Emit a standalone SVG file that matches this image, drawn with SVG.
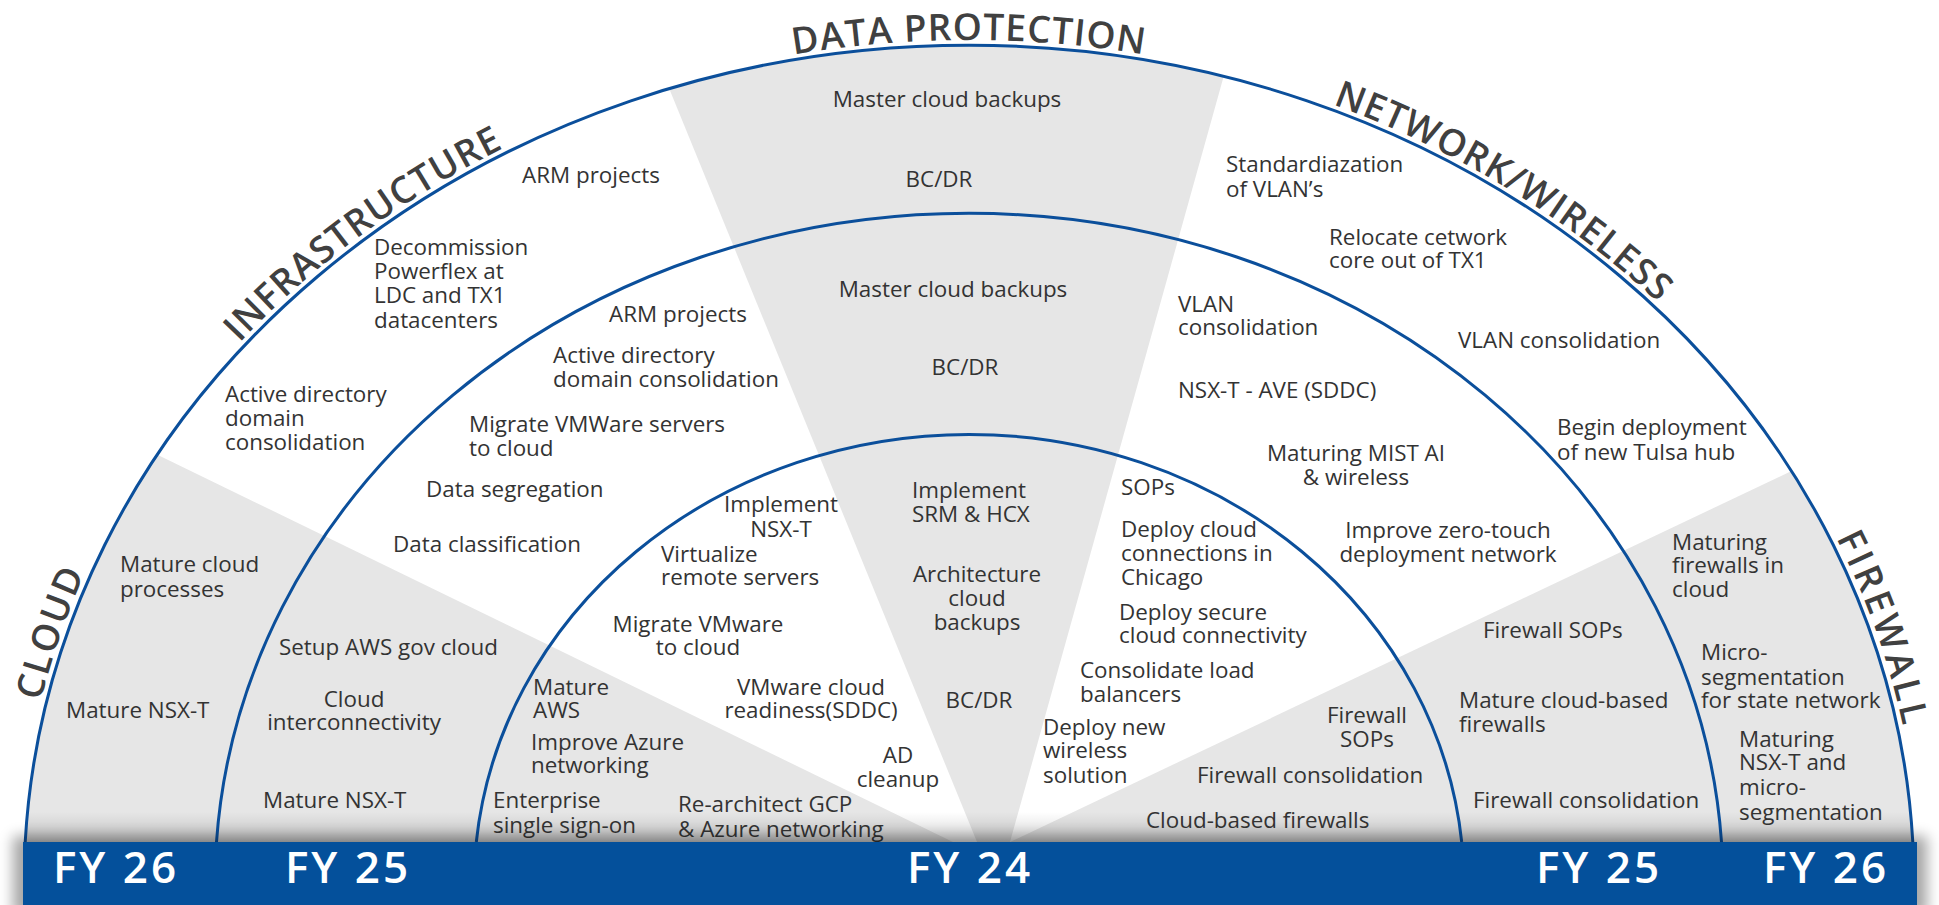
<svg xmlns="http://www.w3.org/2000/svg" width="1939" height="905" viewBox="0 0 1939 905">
<defs>
<style>
.item{font-family:"Open Sans","Liberation Sans",sans-serif;font-size:22.4px;fill:#333333}
.mid{text-anchor:middle}
.title{font-family:"Open Sans","Liberation Sans",sans-serif;font-size:37px;font-weight:600;fill:#404040;letter-spacing:1px;text-anchor:middle}
.fy{font-family:"Open Sans","Liberation Sans",sans-serif;font-size:44px;font-weight:600;fill:#ffffff;text-anchor:middle;letter-spacing:3px}
.arc{fill:none;stroke:#0b4f9b;stroke-width:3}
.sector{fill:#e6e6e6}
</style>
<clipPath id="half"><ellipse cx="969" cy="885" rx="945" ry="839"/></clipPath>
<linearGradient id="fade" x1="0" y1="0" x2="0" y2="1">
<stop offset="0" stop-color="#000" stop-opacity="0"/>
<stop offset="1" stop-color="#000" stop-opacity="0.16"/>
</linearGradient>
<filter id="blur" x="-5%" y="-60%" width="110%" height="220%"><feGaussianBlur stdDeviation="7"/></filter>
<path id="p-cloud" d="M27.7 1005.5 A951 845 0 0 1 260 321.8"/>
<path id="p-infra" d="M107.8 526.6 A951 845 0 0 1 724.5 68.4"/>
<path id="p-dp" d="M567.1 119.2 A951 845 0 0 1 1370.9 119.2"/>
<path id="p-net" d="M1132.5 52.6 A951 845 0 0 1 1791.8 461.2"/>
<path id="p-fw" d="M1674.6 318.5 A951 845 0 0 1 1911 1001.1"/>
</defs>
<rect width="1939" height="905" fill="#ffffff"/>

<g id="sectors" clip-path="url(#half)">
<polygon id="sector-cloud" class="sector" points="0,378 953,842 953,905 0,905"/>
<polygon id="sector-data-protection" class="sector" points="633,0 1245,0 1010,842 977,842"/>
<polygon id="sector-firewall" class="sector" points="1939,401 1010,842 1010,905 1939,905"/>
<rect x="0" y="812" width="1939" height="31" fill="url(#fade)"/>
</g>

<g id="connectors">
<path id="ring-outer" class="arc" d="M25.2 842 A945 839 0 0 1 1912.8 842"/>
<path id="ring-middle" class="arc" d="M216.5 842 A754 671 0 0 1 1721.5 842"/>
<path id="ring-inner" class="arc" d="M476.3 842 A495 451 0 0 1 1461.7 842"/>
</g>

<g id="titles">
<text id="title-cloud" class="title" style="letter-spacing:2px"><textPath href="#p-cloud" startOffset="50%">CLOUD</textPath></text>
<text id="title-infrastructure" class="title"><textPath href="#p-infra" startOffset="49.5%">INFRASTRUCTURE</textPath></text>
<text id="title-data-protection" class="title"><textPath href="#p-dp" startOffset="50%">DATA PROTECTION</textPath></text>
<text id="title-network" class="title"><textPath href="#p-net" startOffset="50%">NETWORK/WIRELESS</textPath></text>
<text id="title-firewall" class="title" style="letter-spacing:3.5px"><textPath href="#p-fw" startOffset="50%">FIREWALL</textPath></text>
</g>

<g id="items-outer">
<text id="o1" class="item" x="120" y="572">Mature cloud<tspan x="120" y="597">processes</tspan></text>
<text id="o2" class="item" x="66" y="718">Mature NSX-T</text>
<text id="o3" class="item" x="225" y="402">Active directory<tspan x="225" y="426">domain</tspan><tspan x="225" y="450">consolidation</tspan></text>
<text id="o4" class="item" x="374" y="255">Decommission<tspan x="374" y="279">Powerflex at</tspan><tspan x="374" y="303">LDC and TX1</tspan><tspan x="374" y="328">datacenters</tspan></text>
<text id="o5" class="item" x="522" y="183">ARM projects</text>
<text id="o6" class="item mid" x="947" y="107">Master cloud backups</text>
<text id="o7" class="item mid" x="939" y="187">BC/DR</text>
<text id="o8" class="item" x="1226" y="172">Standardiazation<tspan x="1226" y="197">of VLAN’s</tspan></text>
<text id="o9" class="item" x="1329" y="245">Relocate cetwork<tspan x="1329" y="268">core out of TX1</tspan></text>
<text id="o10" class="item" x="1458" y="348">VLAN consolidation</text>
<text id="o11" class="item" x="1557" y="435">Begin deployment<tspan x="1557" y="460">of new Tulsa hub</tspan></text>
<text id="o12" class="item" x="1672" y="550">Maturing<tspan x="1672" y="573">firewalls in</tspan><tspan x="1672" y="597">cloud</tspan></text>
<text id="o13" class="item" x="1701" y="660">Micro-<tspan x="1701" y="685">segmentation</tspan><tspan x="1701" y="708">for state network</tspan></text>
<text id="o14" class="item" x="1739" y="747">Maturing<tspan x="1739" y="770">NSX-T and</tspan><tspan x="1739" y="795">micro-</tspan><tspan x="1739" y="820">segmentation</tspan></text>
</g>

<g id="items-middle">
<text id="m1" class="item" x="609" y="322">ARM projects</text>
<text id="m2" class="item" x="553" y="363">Active directory<tspan x="553" y="387">domain consolidation</tspan></text>
<text id="m3" class="item" x="469" y="432">Migrate VMWare servers<tspan x="469" y="456">to cloud</tspan></text>
<text id="m4" class="item" x="426" y="497">Data segregation</text>
<text id="m5" class="item" x="393" y="552">Data classification</text>
<text id="m6" class="item" x="279" y="655">Setup AWS gov cloud</text>
<text id="m7" class="item mid" x="354" y="707">Cloud<tspan x="354" y="730">interconnectivity</tspan></text>
<text id="m8" class="item" x="263" y="808">Mature NSX-T</text>
<text id="m9" class="item mid" x="953" y="297">Master cloud backups</text>
<text id="m10" class="item mid" x="965" y="375">BC/DR</text>
<text id="m11" class="item" x="1178" y="312">VLAN<tspan x="1178" y="335">consolidation</tspan></text>
<text id="m12" class="item" x="1178" y="398">NSX-T - AVE (SDDC)</text>
<text id="m13" class="item mid" x="1356" y="461">Maturing MIST AI<tspan x="1356" y="485">&amp; wireless</tspan></text>
<text id="m14" class="item mid" x="1448" y="538">Improve zero-touch<tspan x="1448" y="562">deployment network</tspan></text>
<text id="m15" class="item" x="1483" y="638">Firewall SOPs</text>
<text id="m16" class="item" x="1459" y="708">Mature cloud-based<tspan x="1459" y="732">firewalls</tspan></text>
<text id="m17" class="item" x="1473" y="808">Firewall consolidation</text>
</g>

<g id="items-inner">
<text id="i1" class="item" x="533" y="695">Mature<tspan x="533" y="718">AWS</tspan></text>
<text id="i2" class="item" x="531" y="750">Improve Azure<tspan x="531" y="773">networking</tspan></text>
<text id="i3" class="item" x="493" y="808">Enterprise<tspan x="493" y="833">single sign-on</tspan></text>
<text id="i4" class="item" x="678" y="812">Re-architect GCP<tspan x="678" y="837">&amp; Azure networking</tspan></text>
<text id="i5" class="item mid" x="781" y="512">Implement<tspan x="781" y="537">NSX-T</tspan></text>
<text id="i6" class="item" x="661" y="562">Virtualize<tspan x="661" y="585">remote servers</tspan></text>
<text id="i7" class="item mid" x="698" y="632">Migrate VMware<tspan x="698" y="655">to cloud</tspan></text>
<text id="i8" class="item mid" x="811" y="695">VMware cloud<tspan x="811" y="718">readiness(SDDC)</tspan></text>
<text id="i9" class="item mid" x="898" y="763">AD<tspan x="898" y="787">cleanup</tspan></text>
<text id="i10" class="item" x="912" y="498">Implement<tspan x="912" y="522">SRM &amp; HCX</tspan></text>
<text id="i11" class="item mid" x="977" y="582">Architecture<tspan x="977" y="606">cloud</tspan><tspan x="977" y="630">backups</tspan></text>
<text id="i12" class="item mid" x="979" y="708">BC/DR</text>
<text id="i13" class="item" x="1121" y="495">SOPs</text>
<text id="i14" class="item" x="1121" y="537">Deploy cloud<tspan x="1121" y="561">connections in</tspan><tspan x="1121" y="585">Chicago</tspan></text>
<text id="i15" class="item" x="1119" y="620">Deploy secure<tspan x="1119" y="643">cloud connectivity</tspan></text>
<text id="i16" class="item" x="1080" y="678">Consolidate load<tspan x="1080" y="702">balancers</tspan></text>
<text id="i17" class="item" x="1043" y="735">Deploy new<tspan x="1043" y="758">wireless</tspan><tspan x="1043" y="783">solution</tspan></text>
<text id="i18" class="item" x="1197" y="783">Firewall consolidation</text>
<text id="i19" class="item" x="1146" y="828">Cloud-based firewalls</text>
<text id="i20" class="item mid" x="1367" y="723">Firewall<tspan x="1367" y="747">SOPs</tspan></text>
</g>

<g id="timeline">
<rect x="13" y="836" width="1914" height="80" fill="#000" opacity="0.35" filter="url(#blur)"/>
<rect x="23" y="842" width="1894" height="63" fill="#04509b"/>
<text class="fy" x="116" y="883">FY 26</text>
<text class="fy" x="348" y="883">FY 25</text>
<text class="fy" x="970" y="883">FY 24</text>
<text class="fy" x="1599" y="883">FY 25</text>
<text class="fy" x="1826" y="883">FY 26</text>
</g>
</svg>
